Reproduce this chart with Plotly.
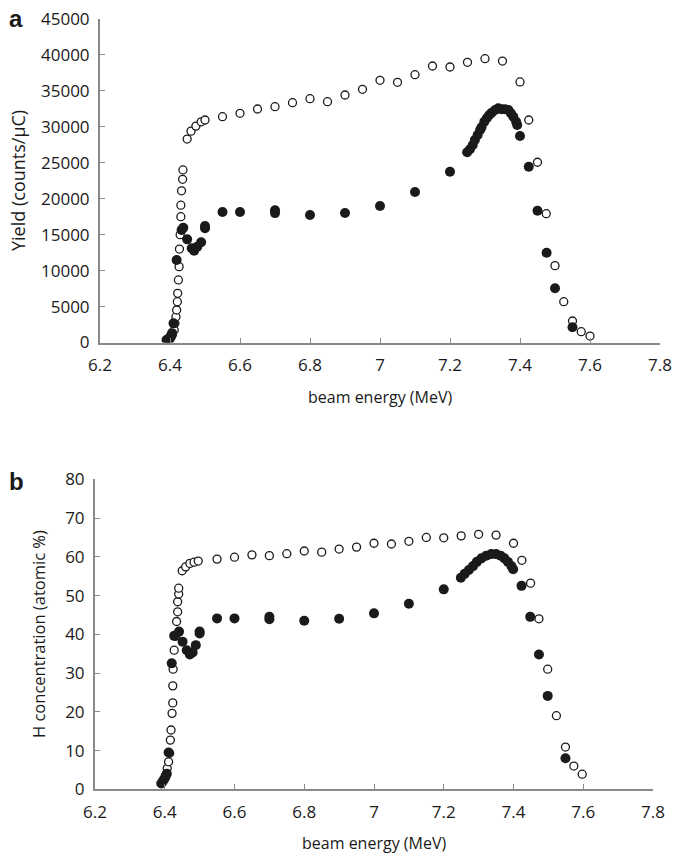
import plotly.graph_objects as go

# ---- Panel a: yield (counts/uC) ----
a_open_x = [6.398, 6.403, 6.407, 6.412, 6.414, 6.417, 6.419, 6.421, 6.422, 6.424, 6.426, 6.427, 6.429,
            6.431, 6.431, 6.433, 6.436, 6.437, 6.449, 6.46, 6.474, 6.489, 6.50,
            6.55, 6.60, 6.65, 6.70, 6.75, 6.80, 6.85, 6.90, 6.95, 7.00, 7.05, 7.10, 7.15, 7.20, 7.25,
            7.30, 7.35, 7.40, 7.425, 7.45, 7.475, 7.50, 7.525, 7.55, 7.575, 7.60]
a_open_y = [300, 700, 1100, 1740, 2670, 3590, 4520, 5680, 6840, 8700, 10550, 13000, 15000,
            17500, 19100, 21100, 22700, 24000, 28300, 29400, 30100, 30700, 30950,
            31410, 31880, 32480, 32800, 33360, 33910, 33500, 34430, 35220, 36470, 36190, 37250, 38460, 38320, 38980,
            39480, 39150, 36240, 30950, 25070, 17920, 10690, 5680, 2990, 1500, 900]

a_fill_x = [6.39, 6.394, 6.398, 6.402, 6.406, 6.41, 6.419, 6.433, 6.438, 6.449, 6.462, 6.469, 6.478, 6.489,
            6.50, 6.50, 6.55, 6.60, 6.70, 6.70, 6.80, 6.90, 7.00, 7.10, 7.20,
            7.249, 7.257, 7.265, 7.271, 7.279, 7.286, 7.29, 7.298, 7.305, 7.312, 7.319, 7.329, 7.338,
            7.347, 7.357, 7.367, 7.374, 7.381, 7.389, 7.392, 7.40, 7.425, 7.45, 7.476, 7.50, 7.55]
a_fill_y = [350, 450, 600, 900, 1300, 2670, 11480, 15650, 15970, 14350, 13100, 12770, 13330, 13940,
            15890, 16200, 18150, 18150, 18400, 18000, 17740, 18010, 18990, 20930, 23760,
            26460, 26870, 27470, 28170, 28860, 29560, 29930, 30710, 31190, 31650, 31970, 32340, 32580,
            32440, 32440, 32340, 31880, 31410, 30710, 30250, 28720, 24450, 18330, 12490, 7540, 2110]

# ---- Panel b: H concentration (atomic %) ----
b_open_x = [6.398, 6.403, 6.407, 6.411, 6.414, 6.416, 6.418, 6.421, 6.423, 6.423, 6.424, 6.427, 6.431,
            6.434, 6.437, 6.437, 6.44, 6.44, 6.45, 6.46, 6.472, 6.484, 6.496,
            6.55, 6.60, 6.65, 6.70, 6.75, 6.80, 6.85, 6.90, 6.95, 7.00, 7.05, 7.10, 7.15, 7.20, 7.25,
            7.30, 7.35, 7.40, 7.424, 7.449, 7.473, 7.498, 7.523, 7.549, 7.573, 7.597]
b_open_y = [2.5, 3.7, 5.4, 7.1, 9.3, 12.7, 15.3, 19.6, 22.3, 26.7, 31.0, 35.9, 39.5,
            43.3, 45.8, 48.4, 50.4, 51.9, 56.4, 57.4, 58.3, 58.6, 58.9,
            59.4, 59.9, 60.5, 60.3, 60.8, 61.5, 61.2, 62.0, 62.5, 63.5, 63.3, 64.0, 65.0, 64.9, 65.4,
            65.8, 65.6, 63.5, 59.1, 53.2, 44.0, 31.0, 19.0, 10.9, 6.0, 3.9]

b_fill_x = [6.39, 6.394, 6.398, 6.402, 6.406, 6.411, 6.42, 6.427, 6.441, 6.451, 6.463, 6.472, 6.48, 6.489,
            6.50, 6.50, 6.55, 6.60, 6.70, 6.70, 6.80, 6.90, 7.00, 7.10, 7.20,
            7.249, 7.26, 7.272, 7.284, 7.295, 7.308, 7.322, 7.336, 7.35, 7.363, 7.374, 7.384, 7.394,
            7.399, 7.423, 7.448, 7.473, 7.498, 7.549]
b_fill_y = [1.5, 2.0, 2.6, 3.2, 4.0, 9.5, 32.5, 39.6, 40.7, 38.1, 35.9, 34.8, 35.3, 37.2,
            40.7, 40.2, 44.1, 44.1, 44.5, 43.9, 43.5, 44.0, 45.4, 47.9, 51.6,
            54.6, 55.6, 56.6, 57.6, 58.7, 59.6, 60.3, 60.7, 60.7, 60.3, 59.6, 58.7, 57.6,
            56.8, 52.5, 44.5, 34.8, 24.1, 8.0]

x_ticks = [6.2, 6.4, 6.6, 6.8, 7.0, 7.2, 7.4, 7.6, 7.8]

W, H = 673, 856
FONT = "Open Sans"
AX = "#898989"
TXT = "#1a1a1a"

def fx(px):
    return px / W

def fy(py):
    return 1 - py / H

open_marker = dict(symbol="circle", size=8, color="white", line=dict(color="#1a1a1a", width=1.3))
fill_marker = dict(symbol="circle", size=10, color="#1a1a1a", line=dict(color="#1a1a1a", width=0))

fig = go.Figure()
fig.add_trace(go.Scatter(x=a_open_x, y=a_open_y, mode="markers", marker=open_marker, xaxis="x", yaxis="y"))
fig.add_trace(go.Scatter(x=a_fill_x, y=a_fill_y, mode="markers", marker=fill_marker, xaxis="x", yaxis="y"))
fig.add_trace(go.Scatter(x=b_open_x, y=b_open_y, mode="markers", marker=open_marker, xaxis="x2", yaxis="y2"))
fig.add_trace(go.Scatter(x=b_fill_x, y=b_fill_y, mode="markers", marker=fill_marker, xaxis="x2", yaxis="y2"))

def xax(dom, anchor):
    return dict(domain=dom, anchor=anchor, range=[6.2, 7.8], tickvals=x_ticks, ticks="inside", ticklen=5,
                tickcolor=AX, tickwidth=1.3, showline=True, linecolor=AX, linewidth=2, showgrid=False,
                zeroline=False, automargin=False, ticklabelstandoff=6, ticklabeloverflow="allow",
                tickfont=dict(family=FONT, size=17, color=TXT))

def yax(dom, anchor, rng, dt):
    return dict(domain=dom, anchor=anchor, range=rng, dtick=dt, tick0=0, ticks="inside", ticklen=5,
                tickcolor=AX, tickwidth=1.3, showline=True, linecolor=AX, linewidth=2, showgrid=False,
                zeroline=False, automargin=False, ticklabelstandoff=5, ticklabeloverflow="allow",
                tickformat="d", tickfont=dict(family=FONT, size=17, color=TXT))

fig.update_layout(
    width=W, height=H, margin=dict(l=0, r=0, t=0, b=0),
    paper_bgcolor="white", plot_bgcolor="white", showlegend=False,
    xaxis=xax([fx(100), fx(660)], "y"),
    yaxis=yax([fy(342.5), fy(19)], "x", [0, 45000], 5000),
    xaxis2=xax([fx(95), fx(653)], "y2"),
    yaxis2=yax([fy(789.3), fy(479.3)], "x2", [0, 80], 10),
)

ann = [
    ("<b>a</b>", 16, 18, "Liberation Sans", 24, 0),
    ("<b>b</b>", 16, 481, "Liberation Sans", 24, 0),
    ("Yield (counts/μC)", 18, 181, FONT, 18, -90),
    ("H concentration (atomic %)", 38, 634, FONT, 16.5, -90),
    ("beam energy (MeV)", 380, 397, FONT, 16, 0),
    ("beam energy (MeV)", 374, 843, FONT, 16, 0),
]
for txt, px, py, fam, sz, ang in ann:
    fig.add_annotation(text=txt, xref="paper", yref="paper", x=fx(px), y=fy(py),
                       xanchor="center", yanchor="middle", showarrow=False, textangle=ang,
                       font=dict(family=fam, size=sz, color=TXT))

# remove the default 8px page margin so the figure fills the window exactly; hide the modebar
fig.write_html("out.html", config={"displayModeBar": False},
               post_script="document.body.style.margin='0';"
                           "document.documentElement.style.overflow='hidden';")
